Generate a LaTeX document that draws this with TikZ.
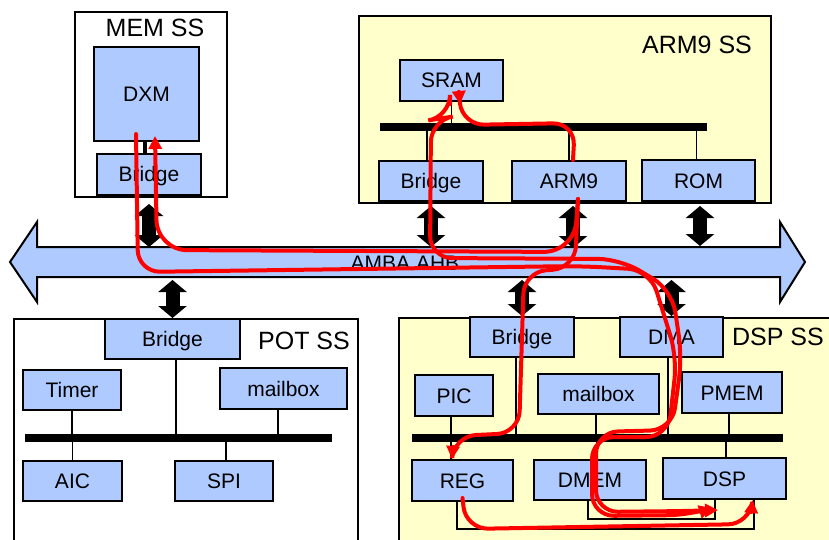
\documentclass[tikz,border=0pt]{standalone}
\usepackage{fontspec}
\setmainfont{Liberation Sans}
\usetikzlibrary{arrows.meta}
\definecolor{boxblue}{RGB}{174,202,255}
\definecolor{ssyellow}{RGB}{255,255,204}
\definecolor{flowred}{RGB}{255,0,0}

\begin{document}
\begin{tikzpicture}[x=1pt, y=-1pt,
    blk/.style={draw, line width=2pt, fill=boxblue, inner sep=0pt, minimum height=40pt, text height=15pt, text depth=0pt, font=\fontsize{21}{24}\selectfont},
    ssbox/.style={draw, line width=2pt, inner sep=0pt},
    sslbl/.style={font=\fontsize{25}{28}\selectfont},
    wire/.style={line width=1.6pt},
    bus/.style={line width=8pt},
    dbl/.style={line width=14pt, {Triangle[length=12pt,width=28pt]}-{Triangle[length=12pt,width=28pt]}},
    flow/.style={flowred, line width=4pt, rounded corners=22pt, line cap=round, -{Triangle[length=13pt,width=13pt]}}]
    \clip (0,0) rectangle (829,540);
    \fill[white] (0,0) rectangle (829,540);

    \node[ssbox, fill=white, minimum width=152pt, minimum height=185pt] (memss) at (151,104.5) {};
    \node[sslbl] (memlbl) at (155,28) {MEM SS};
    \node[blk, minimum width=105pt, minimum height=94pt] (dxm) at (146.5,94) {DXM};
    \node[blk, minimum width=104pt, minimum height=41pt] (membr) at (149,174.5) {Bridge};
    \draw[line width=3.5pt] ([xshift=-1.5pt]dxm.south) -- ([xshift=-4pt]membr.north);

    \node[ssbox, fill=ssyellow, minimum width=412pt, minimum height=187pt] (armss) at (565,109.5) {};
    \node[sslbl] (armlbl) at (697,45) {ARM9 SS};
    \node[blk, minimum width=103pt, minimum height=41pt] (sram) at (451.5,80.5) {SRAM};
    \node[blk, minimum width=104pt] (armbr) at (431,181) {Bridge};
    \node[blk, minimum width=114pt] (arm9) at (569,181) {ARM9};
    \node[blk, minimum width=113pt, minimum height=41pt] (rom) at (698.5,180.5) {ROM};
    \coordinate (armbus) at (380,127);
    \draw[wire] (sram.south) |- (armbus);
    \draw[wire] ([xshift=-4pt]armbr.north) |- (armbus);
    \draw[wire] (arm9.north) |- (armbus);
    \draw[wire] ([xshift=-2pt]rom.north) |- (armbus);
    \draw[bus] (armbus) -- (707,127);

    \draw[line width=2pt, fill=boxblue] (10,262) -- (37,222) -- (37,247) -- (780,247) -- (780,222) -- (805,262)
        -- (780,302) -- (780,277) -- (37,277) -- (37,302) -- cycle;
    \node[font=\fontsize{21}{24}\selectfont] (ahb) at (405,263) {AMBA AHB};
    \coordinate (ahbtop) at (0,247);
    \coordinate (ahbbot) at (0,280);

    \node[ssbox, fill=white, minimum width=344pt, minimum height=250pt, anchor=north west] (potss) at (13,318) {};
    \node[sslbl] (potlbl) at (304,341) {POT SS};
    \node[blk, minimum width=135pt] (potbr) at (172.5,339) {Bridge};
    \node[blk, minimum width=98pt] (timer) at (72,390) {Timer};
    \node[blk, minimum width=127pt, minimum height=41pt] (potmb) at (283.5,388.5) {mailbox};
    \node[blk, minimum width=99pt] (aic) at (72.5,481) {AIC};
    \node[blk, minimum width=98pt] (spi) at (224,481) {SPI};
    \coordinate (potbus) at (25,438);
    \draw[wire] (timer.south) |- (potbus);
    \draw[wire] ([xshift=3.5pt]potbr.south) |- (potbus);
    \draw[wire] ([xshift=-5.5pt]potmb.south) |- (potbus);
    \draw[wire] (aic.north) |- (potbus);
    \draw[wire] ([xshift=2pt]spi.north) |- (potbus);
    \draw[bus] (potbus) -- (332,438);

    \node[ssbox, fill=ssyellow, minimum width=440pt, minimum height=250pt, anchor=north west] (dspss) at (398,317) {};
    \node[sslbl] (dsplbl) at (778,337) {DSP SS};
    \node[blk, minimum width=104pt] (dspbr) at (522,337) {Bridge};
    \node[blk, minimum width=103pt] (dma) at (671.5,337) {DMA};
    \node[blk, minimum width=78pt, minimum height=41pt] (pic) at (454,395.5) {PIC};
    \node[blk, minimum width=121pt] (dspmb) at (598.5,394) {mailbox};
    \node[blk, minimum width=100pt, minimum height=41pt] (pmem) at (732,392.5) {PMEM};
    \node[blk, minimum width=101pt, minimum height=41pt] (reg) at (462.5,480.5) {REG};
    \node[blk, minimum width=112pt] (dmem) at (590,480) {DMEM};
    \node[blk, minimum width=123pt, minimum height=41pt] (dsp) at (724.5,478.5) {DSP};
    \coordinate (dspbus) at (412,438);
    \draw[wire] ([xshift=-3pt]pic.south) |- (dspbus);
    \draw[wire] ([xshift=-6pt]dspbr.south) |- (dspbus);
    \draw[wire] ([xshift=-2.5pt]dspmb.south) |- (dspbus);
    \draw[wire] ([xshift=-3.5pt]dma.south) |- (dspbus);
    \draw[wire] ([xshift=-3pt]pmem.south) |- (dspbus);
    \draw[wire] ([xshift=-11.5pt]reg.north) |- (dspbus);
    \draw[wire] ([xshift=7pt]dmem.north) |- (dspbus);
    \draw[wire] ([xshift=1.5pt]dsp.north) |- (dspbus);
    \draw[bus] (dspbus) -- (783,438);
    \draw[wire] ([xshift=-5.5pt]reg.south) -- ++(0,27) -| ([xshift=29.5pt]dsp.south);
    \draw[wire] ([xshift=-2pt]dmem.south) -- ++(0,18) -| ([xshift=-9.5pt]dsp.south);

    \draw[dbl] ([yshift=-8pt]membr.south) -- (membr.south |- ahbtop);
    \draw[dbl] ([yshift=-4pt]armbr.south) -- (armbr.south |- ahbtop);
    \draw[dbl] ([xshift=4pt,yshift=-4pt]arm9.south) -- ++(0,42);
    \draw[dbl] ([xshift=1.5pt,yshift=-4pt]rom.south) -- ++(0,40);
    \draw[dbl] (potbr.north |- ahbbot) -- (potbr.north);
    \draw[dbl] (dspbr.north |- ahbbot) -- (dspbr.north);
    \draw[dbl] (dma.north |- ahbbot) -- (dma.north);

    \draw[flow] ([xshift=-10.5pt,yshift=8pt]dxm.south) -- (138,272) -- (580,266) -- (650,270) -- (677,357)
        -- (668,437) -- (592,437) -- (592,516) -- (690,515) -- ([xshift=-12.5pt,yshift=-8pt]dsp.south);
    \draw[flow] ([xshift=-1.5pt,yshift=-2pt]sram.south) -- (450,117) -- (431,120) -- (430,258) -- (620,259)
        -- (672,290) -- (682,357) -- (672,430) -- (596,432) -- (596,512) -- (690,511) -- ([xshift=-6.5pt,yshift=-10pt]dsp.south);
    \draw[flow, rounded corners=30pt] ([xshift=9pt,yshift=3pt]arm9.south) -- (574,252) -- (157,250) -- ([xshift=8.5pt,yshift=6pt]dxm.south);
    \draw[flow] ([xshift=4pt]arm9.north) -- (575,123) -- (462,125) -- ([xshift=8.5pt,yshift=-2pt]sram.south);
    \draw[flow] ([xshift=9pt,yshift=3pt]arm9.south) -- (575,268) -- (524,272) -- (519,433) -- (454,436) -- ([xshift=-10.5pt]reg.north);
    \draw[flow] ([yshift=4pt]reg.south) -- (466,529) -- (750,524) -- ([xshift=28pt]dsp.south);
\end{tikzpicture}
\end{document}
